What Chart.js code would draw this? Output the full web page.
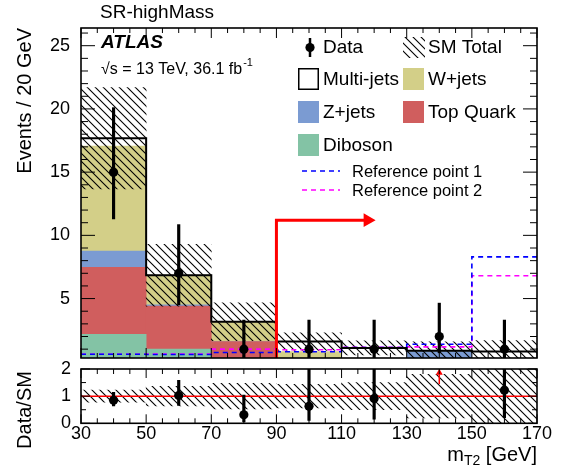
<!DOCTYPE html>
<html>
<head>
<meta charset="utf-8">
<script src="https://cdn.jsdelivr.net/npm/chart.js@4.4.1/dist/chart.umd.min.js"></script>
<style>
  body { margin: 0; background: #fff; width: 568px; height: 469px; overflow: hidden; position: relative; }
  canvas { position: absolute; left: 0; }
  #main { top: 0; }
  #ratio { top: 346px; }
</style>
</head>
<body>
<canvas id="main" width="568" height="366"></canvas>
<canvas id="ratio" width="568" height="123"></canvas>
<script>
// binning (mT2 in GeV)
const binEdges = [30, 50, 70, 90, 110, 130, 150, 170];
const binCenters = [40, 60, 80, 100, 120, 140, 160];

// background stack, events per bin
const diboson   = [2.17, 1.0, 0.2, 0, 0, 0, 0];
const topQuark  = [5.31, 3.4, 1.4, 0, 0, 0, 0];
const zJets     = [1.28, 0.1, 0, 0, 0, 0.8, 0];
const wJets     = [8.31, 2.35, 1.57, 0.8, 0.2, 0.07, 0.25];
const multiJets = [0.61, 0, 0, 0.8, 0.9, 0, 0.57];
const smError   = [4.0, 2.45, 1.5, 0.7, 0.55, 0.7, 0.85];

// data with its error bar ends
const dataCounts = [15, 7, 1, 1, 1, 2, 1];
const dataLow    = [11.3, 4.5, 0.17, 0.17, 0.17, 0.71, 0.17];
const dataHigh   = [20.1, 10.85, 3.3, 3.3, 3.3, 4.64, 3.3];

// signal reference points
const refPoint1 = [0.6, 0.58, 0.74, 0.8, 1.13, 1.39, 8.3];
const refPoint2 = [0.6, 0.62, 1.0, 0.95, 1.15, 1.18, 6.8];

// cut arrow
const cutValue = 90;
const cutArrowHeight = 11.2;
const cutArrowEnd = 118;

// axes
const mainYMin = 0.3, mainYMax = 26.4;
const ratioYMin = 0, ratioYMax = 2;
const mainYTicks = [5, 10, 15, 20, 25];
const ratioYTicks = [0, 1, 2];
const xTicks = [30, 50, 70, 90, 110, 130, 150, 170];

const FONT = '"Liberation Sans", Arial, Helvetica, sans-serif';
const colors = {
  diboson: '#83c3a5',
  top: '#d05e5e',
  z: '#7b9bd2',
  w: '#d3cf88',
  multi: '#ffffff'
};

function hatchPattern(ctx) {
  const c = document.createElement('canvas');
  c.width = 8; c.height = 8;
  const g = c.getContext('2d');
  g.strokeStyle = '#000';
  g.lineWidth = 1.1;
  g.beginPath();
  g.moveTo(-1, -1); g.lineTo(9, 9);
  g.moveTo(-1, 7); g.lineTo(1, 9);
  g.moveTo(7, -1); g.lineTo(9, 1);
  g.stroke();
  return ctx.createPattern(c, 'repeat');
}

// histogram outline: one point per left edge plus the last right edge
function steps(values) {
  return binEdges.map((e, i) => ({x: e, y: values[Math.min(i, values.length - 1)]}));
}

// build the stacked background as floating bars
const components = [
  {label: 'Diboson', values: diboson, color: colors.diboson},
  {label: 'Top Quark', values: topQuark, color: colors.top},
  {label: 'Z+jets', values: zJets, color: colors.z},
  {label: 'W+jets', values: wJets, color: colors.w},
  {label: 'Multi-jets', values: multiJets, color: colors.multi}
];
let base = binCenters.map(() => 0);
const stackSets = components.map(c => {
  const d = binCenters.map((x, i) => ({x: x, y: [base[i], base[i] + c.values[i]]}));
  base = base.map((b, i) => b + c.values[i]);
  return {type: 'bar', label: c.label, data: d, backgroundColor: c.color, borderWidth: 0, order: 10};
});
const smTotal = base;

const ratio = dataCounts.map((n, i) => n / smTotal[i]);
const offScale = ratio.map(r => r > ratioYMax);

// frame with ROOT style inward ticks
function isMajor(v, step) {
  const r = Math.abs(v / step - Math.round(v / step));
  return r < 1e-6;
}
const framePlugin = {
  id: 'frame',
  afterDatasetsDraw(chart, args, o) {
    const {ctx, chartArea: a} = chart;
    const xs = chart.scales.x, ys = chart.scales.y;
    ctx.save();
    ctx.strokeStyle = '#000';
    ctx.lineWidth = 1;
    ctx.beginPath();
    for (let k = 0; xs.min + k * o.xMinor <= xs.max + 1e-6; k++) {
      const v = xs.min + k * o.xMinor;
      const px = xs.getPixelForValue(v);
      const len = isMajor(v - xs.min, o.xMajor) ? o.xMajorLen : o.xMinorLen;
      ctx.moveTo(px, a.bottom); ctx.lineTo(px, a.bottom - len);
      ctx.moveTo(px, a.top); ctx.lineTo(px, a.top + len);
    }
    for (let k = 0; k * o.yMinor <= ys.max + 1e-6; k++) {
      const v = k * o.yMinor;
      if (v < ys.min) continue;
      const py = ys.getPixelForValue(v);
      const len = isMajor(v, o.yMajor) ? o.yMajorLen : o.yMinorLen;
      ctx.moveTo(a.left, py); ctx.lineTo(a.left + len, py);
      ctx.moveTo(a.right, py); ctx.lineTo(a.right - len, py);
    }
    ctx.stroke();
    ctx.lineWidth = 1.6;
    ctx.strokeRect(a.left, a.top, a.right - a.left, a.bottom - a.top);
    ctx.restore();
  }
};

const mainText = {
  id: 'mainText',
  afterDraw(chart) {
    const ctx = chart.ctx;
    const hatch = hatchPattern(ctx);
    ctx.save();
    ctx.fillStyle = '#000';
    ctx.strokeStyle = '#000';
    ctx.textBaseline = 'alphabetic';
    ctx.font = '19px ' + FONT;
    ctx.fillText('SR-highMass', 100, 18);
    ctx.font = 'italic bold 19px ' + FONT;
    ctx.fillText('ATLAS', 101, 48);
    ctx.font = '16px ' + FONT;
    const lumi = '\u221As = 13 TeV, 36.1 fb';
    ctx.fillText(lumi, 101, 74);
    const w = ctx.measureText(lumi).width;
    ctx.font = '11px ' + FONT;
    ctx.fillText('-1', 101 + w + 1, 66);

    ctx.save();
    ctx.translate(31, 28);
    ctx.rotate(-Math.PI / 2);
    ctx.textAlign = 'right';
    ctx.font = '20px ' + FONT;
    ctx.fillText('Events / 20 GeV', 0, 0);
    ctx.restore();

    // legend
    ctx.textBaseline = 'middle';
    ctx.font = '19px ' + FONT;
    ctx.lineWidth = 2.5;
    ctx.beginPath(); ctx.moveTo(310, 38); ctx.lineTo(310, 57); ctx.stroke();
    ctx.beginPath(); ctx.arc(310, 47.5, 4.6, 0, 2 * Math.PI); ctx.fill();
    ctx.fillText('Data', 323, 48);

    ctx.fillStyle = hatch;
    ctx.fillRect(403, 37, 22, 21);
    ctx.fillStyle = '#000';
    ctx.fillText('SM Total', 428, 48);

    const boxes = [
      ['Multi-jets', colors.multi, 298, 68, true],
      ['W+jets', colors.w, 403, 68, false],
      ['Z+jets', colors.z, 298, 101, false],
      ['Top Quark', colors.top, 403, 101, false],
      ['Diboson', colors.diboson, 298, 134, false]
    ];
    boxes.forEach(([label, col, bx, by, outline]) => {
      ctx.fillStyle = col;
      ctx.fillRect(bx, by, 21, 22);
      if (outline) {
        ctx.lineWidth = 1.5;
        ctx.strokeRect(bx + 0.75, by + 0.75, 19.5, 20.5);
      }
      ctx.fillStyle = '#000';
      ctx.fillText(label, bx + 25, by + 12);
    });

    ctx.font = '16.5px ' + FONT;
    [['Reference point 1', '#0000ff', 171], ['Reference point 2', '#ff00ff', 190]].forEach(([label, col, ly]) => {
      ctx.strokeStyle = col;
      ctx.lineWidth = 1.6;
      ctx.setLineDash([5, 4]);
      ctx.beginPath(); ctx.moveTo(302, ly); ctx.lineTo(340, ly); ctx.stroke();
      ctx.setLineDash([]);
      ctx.fillStyle = '#000';
      ctx.fillText(label, 352, ly + 1);
    });
    ctx.restore();
  }
};

const ratioText = {
  id: 'ratioText',
  afterDraw(chart) {
    const ctx = chart.ctx;
    ctx.save();
    ctx.fillStyle = '#000';
    ctx.textBaseline = 'alphabetic';
    ctx.save();
    ctx.translate(31, 64);
    ctx.rotate(-Math.PI / 2);
    ctx.textAlign = 'center';
    ctx.font = '20px ' + FONT;
    ctx.fillText('Data/SM', 0, 0);
    ctx.restore();

    ctx.textAlign = 'right';
    ctx.font = '20px ' + FONT;
    const right = chart.chartArea.right;
    ctx.fillText(' [GeV]', right, 115);
    let x = right - ctx.measureText(' [GeV]').width;
    ctx.font = '14px ' + FONT;
    ctx.fillText('T2', x, 119);
    x -= ctx.measureText('T2').width;
    ctx.font = '20px ' + FONT;
    ctx.fillText('m', x, 115);
    ctx.restore();
  }
};

function fixedAxis(size, horizontal) {
  return function (s) {
    if (horizontal) s.height = size; else s.width = size;
    s.paddingTop = 0; s.paddingBottom = 0; s.paddingLeft = 0; s.paddingRight = 0;
  };
}
function useTicks(values) {
  return function (s) { s.ticks = values.map(v => ({value: v})); };
}

const mainCanvas = document.getElementById('main');
const mainHatch = hatchPattern(mainCanvas.getContext('2d'));

new Chart(mainCanvas, {
  type: 'bar',
  data: {
    datasets: [
      {type: 'line', label: 'Data', data: binCenters.map((x, i) => ({x: x, y: dataCounts[i]})),
       showLine: false, pointRadius: 4.6, pointBackgroundColor: '#000', pointBorderWidth: 0, order: 0},
      {type: 'bar', label: 'Data error', data: binCenters.map((x, i) => ({x: x, y: [dataLow[i], dataHigh[i]]})),
       backgroundColor: '#000', barThickness: 2.5, borderWidth: 0, order: 1},
      {type: 'line', label: 'Cut', data: [{x: cutValue, y: mainYMin}, {x: cutValue, y: cutArrowHeight}, {x: cutArrowEnd, y: cutArrowHeight}],
       borderColor: '#ff0000', borderWidth: 3, pointRadius: 0, order: 2},
      {type: 'line', label: 'Cut head', data: [{x: cutArrowEnd, y: cutArrowHeight}],
       showLine: false, pointStyle: 'triangle', pointRotation: 90, pointRadius: 8,
       pointBackgroundColor: '#ff0000', pointBorderColor: '#ff0000', pointBorderWidth: 0, order: 2},
      {type: 'line', label: 'SM Total', data: steps(smTotal), stepped: 'before',
       borderColor: '#000', borderWidth: 2, pointRadius: 0, order: 3},
      {type: 'line', label: 'Reference point 1', data: steps(refPoint1), stepped: 'before',
       borderColor: '#0000ff', borderWidth: 1.6, borderDash: [5, 4], pointRadius: 0, order: 4},
      {type: 'line', label: 'Reference point 2', data: steps(refPoint2), stepped: 'before',
       borderColor: '#ff00ff', borderWidth: 1.6, borderDash: [5, 4], pointRadius: 0, order: 4.5},
      {type: 'bar', label: 'SM error', data: binCenters.map((x, i) => ({x: x, y: [smTotal[i] - smError[i], smTotal[i] + smError[i]]})),
       backgroundColor: mainHatch, borderWidth: 0, order: 5},
      ...stackSets
    ]
  },
  options: {
    responsive: false,
    animation: false,
    layout: {padding: {left: 0, right: 31, top: 28, bottom: 5}},
    barPercentage: 1,
    categoryPercentage: 1,
    scales: {
      x: {
        type: 'linear', min: 30, max: 170, offset: false, stacked: true,
        grid: {display: false, drawTicks: false}, border: {display: false},
        ticks: {display: false},
        afterBuildTicks: useTicks(xTicks),
        afterFit: fixedAxis(0, true)
      },
      y: {
        type: 'linear', min: mainYMin, max: mainYMax, stacked: false, beginAtZero: false,
        grid: {display: false, drawTicks: false}, border: {display: false},
        ticks: {color: '#000', font: {family: FONT, size: 18}, padding: 11},
        afterBuildTicks: useTicks(mainYTicks),
        afterFit: fixedAxis(81, false)
      }
    },
    plugins: {
      legend: {display: false},
      tooltip: {enabled: false},
      frame: {xMinor: 5, xMajor: 20, xMajorLen: 10, xMinorLen: 5, yMinor: 1, yMajor: 5, yMajorLen: 14, yMinorLen: 7}
    }
  },
  plugins: [framePlugin, mainText]
});

const ratioCanvas = document.getElementById('ratio');
const ratioHatch = hatchPattern(ratioCanvas.getContext('2d'));

new Chart(ratioCanvas, {
  type: 'bar',
  data: {
    datasets: [
      {type: 'line', label: 'Data/SM', data: binCenters.map((x, i) => ({x: x, y: offScale[i] ? null : ratio[i]})),
       showLine: false, pointRadius: 4.6, pointBackgroundColor: '#000', pointBorderWidth: 0, order: 0},
      {type: 'bar', label: 'Data/SM error',
       data: binCenters.map((x, i) => ({x: x, y: offScale[i] ? null : [dataLow[i] / smTotal[i], dataHigh[i] / smTotal[i]]})),
       backgroundColor: '#000', barThickness: 2.5, borderWidth: 0, order: 1},
      ...binCenters.filter((x, i) => offScale[i]).map(x => ({
        type: 'line', label: 'off scale', data: [{x: x, y: 1.45}, {x: x, y: 1.86}],
        borderColor: '#ff0000', borderWidth: 1.5,
        pointRadius: [0, 4], pointStyle: 'triangle', pointBackgroundColor: '#ff0000', pointBorderWidth: 0, order: 2
      })),
      {type: 'line', label: 'unity', data: [{x: 30, y: 1}, {x: 170, y: 1}],
       borderColor: '#ff0000', borderWidth: 1.5, pointRadius: 0, order: 3},
      {type: 'bar', label: 'SM error',
       data: binCenters.map((x, i) => ({x: x, y: [1 - smError[i] / smTotal[i], 1 + smError[i] / smTotal[i]]})),
       backgroundColor: ratioHatch, borderWidth: 0, order: 5}
    ]
  },
  options: {
    responsive: false,
    animation: false,
    layout: {padding: {left: 0, right: 31, top: 23, bottom: 0}},
    barPercentage: 1,
    categoryPercentage: 1,
    scales: {
      x: {
        type: 'linear', min: 30, max: 170, offset: false, stacked: true,
        grid: {display: false, drawTicks: false}, border: {display: false},
        ticks: {color: '#000', font: {family: FONT, size: 18}, padding: 0, maxRotation: 0, autoSkip: false},
        afterBuildTicks: useTicks(xTicks),
        afterFit: fixedAxis(45.7, true)
      },
      y: {
        type: 'linear', min: ratioYMin, max: ratioYMax, stacked: false, beginAtZero: false,
        grid: {display: false, drawTicks: false}, border: {display: false},
        ticks: {color: '#000', font: {family: FONT, size: 18}, padding: 10},
        afterBuildTicks: useTicks(ratioYTicks),
        afterFit: fixedAxis(81, false)
      }
    },
    plugins: {
      legend: {display: false},
      tooltip: {enabled: false},
      frame: {xMinor: 5, xMajor: 20, xMajorLen: 9, xMinorLen: 5, yMinor: 0.5, yMajor: 1, yMajorLen: 9, yMinorLen: 5}
    }
  },
  plugins: [framePlugin, ratioText]
});
</script>
</body>
</html>
